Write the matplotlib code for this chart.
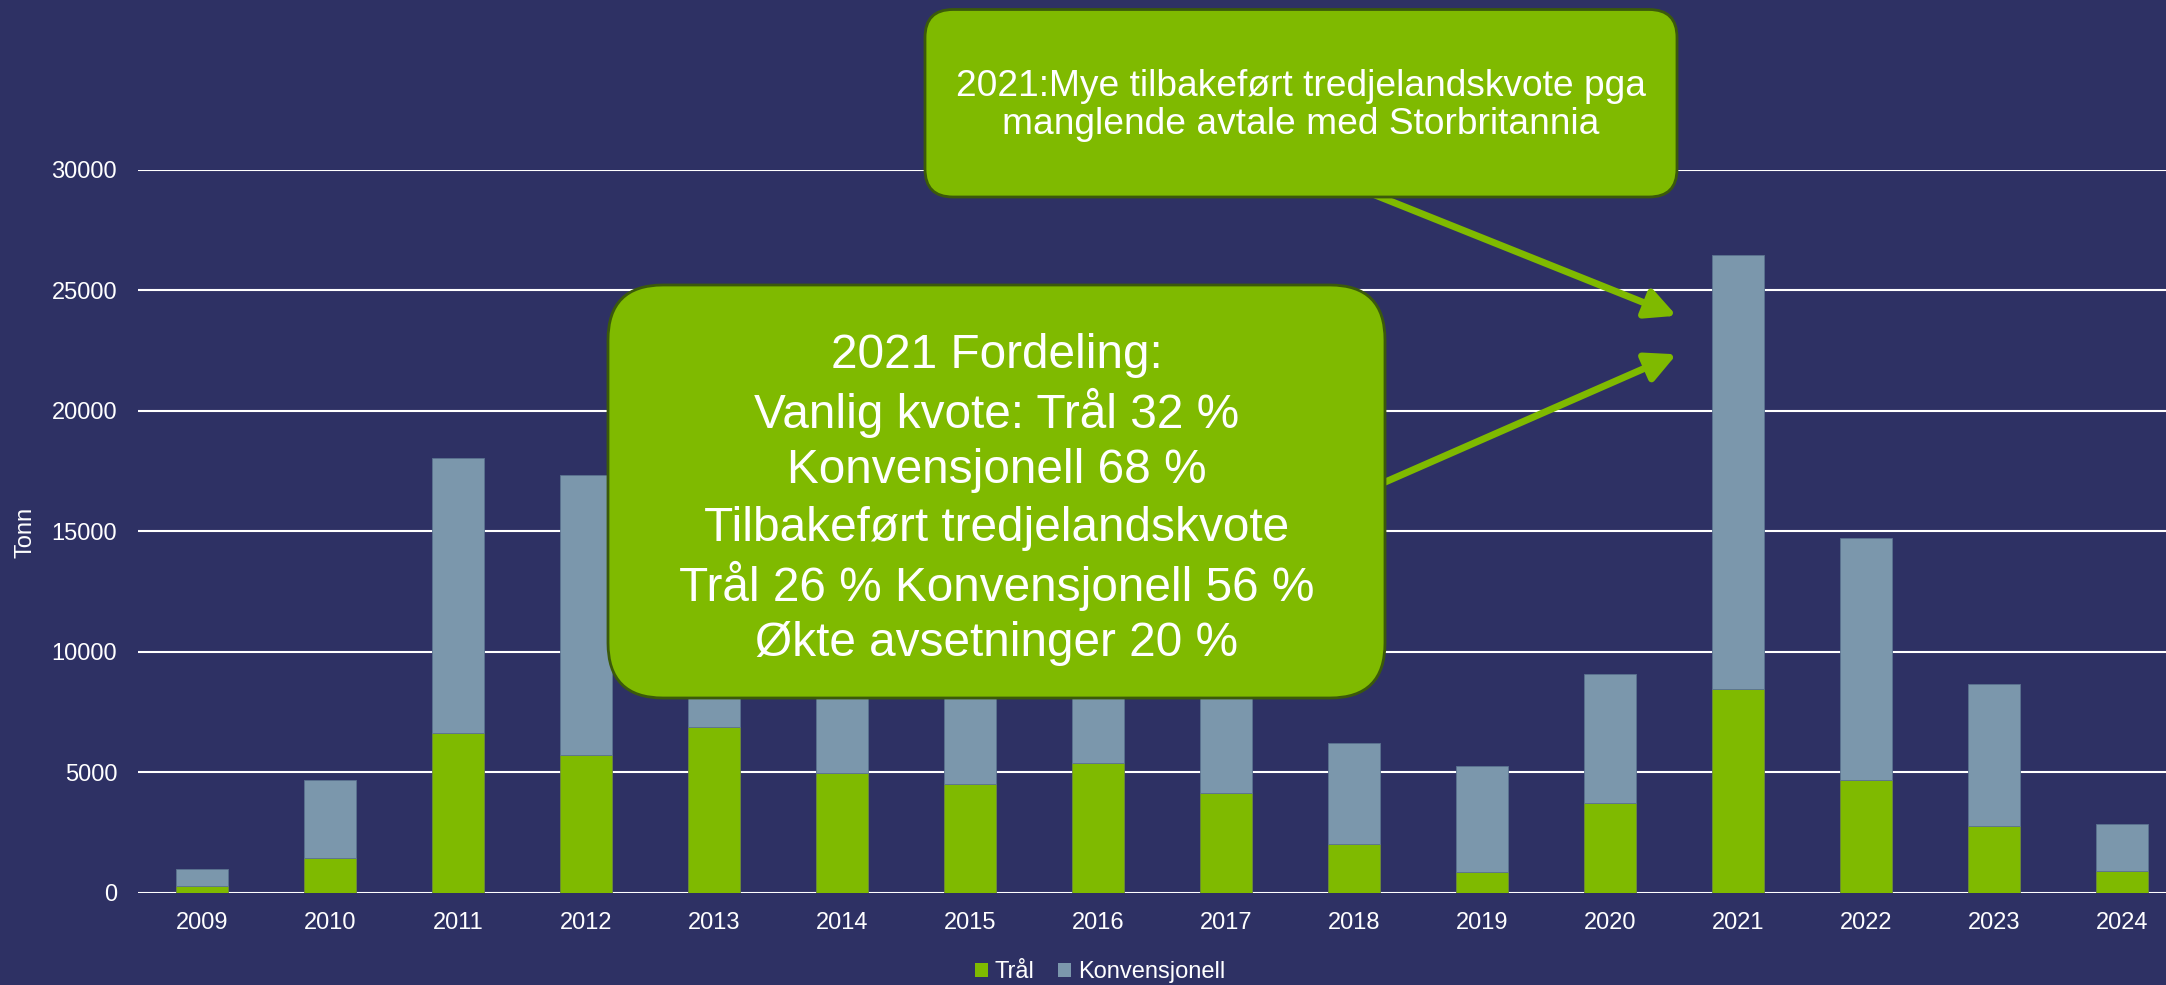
import matplotlib
matplotlib.use("Agg")
import matplotlib.pyplot as plt
import numpy as np
from matplotlib.patches import FancyBboxPatch, Patch

# data (tonn)
years = [str(y) for y in range(2009, 2025)]
tral = [290, 1430, 6630, 5720, 6880, 4980, 4520, 5400, 4130, 2040, 870, 3720, 8470, 4690, 2760, 910]
konv = [680, 3230, 11400, 11630, 9100, 7500, 6500, 7100, 6400, 4190, 4380, 5370, 18020, 10040, 5910, 1940]
yticks = [0, 5000, 10000, 15000, 20000, 25000, 30000]

note_top = ["2021:Mye tilbakeført tredjelandskvote pga",
            "manglende avtale med Storbritannia"]
note_mid = ["2021 Fordeling:",
            "Vanlig kvote: Trål 32 %",
            "Konvensjonell 68 %",
            "Tilbakeført tredjelandskvote",
            "Trål 26 % Konvensjonell 56 %",
            "Økte avsetninger 20 %"]

bg = "#2E3164"
green = "#7FBA00"
blue = "#7B97AC"
font = "Liberation Sans"
plt.rcParams["font.family"] = [font, "DejaVu Sans"]

W, H = 2166, 985
fig = plt.figure(figsize=(W / 100, H / 100), dpi=100, facecolor=bg)

# axes in pixel terms (right edge runs past the figure, as in the slide)
left, right, bottom, top = 138, 2186, 892.7, 170
ax = fig.add_axes([left / W, (H - bottom) / H, (right - left) / W, (bottom - top) / H])
ax.set_facecolor(bg)

x = np.arange(len(years))
ax.bar(x, tral, width=0.4, color=green, edgecolor="#6E8C3A", linewidth=0.6, label="Trål", zorder=3)
ax.bar(x, konv, width=0.4, bottom=tral, color=blue, edgecolor="#5B7390", linewidth=0.6,
       label="Konvensjonell", zorder=3)

ax.set_xlim(-0.5, len(years) - 0.5)
ax.set_ylim(0, 30000)
ax.set_yticks(yticks)
ax.set_xticks(x)
ax.set_xticklabels(years)
ax.grid(axis="y", color="white", linewidth=1.5, zorder=0)
ax.set_axisbelow(True)
for s in ax.spines.values():
    s.set_visible(False)
ax.tick_params(axis="both", length=0, colors="white", labelsize=17)
ax.tick_params(axis="y", pad=15)
ax.tick_params(axis="x", pad=14)

fig.text(25 / W, 1 - 532 / H, "Tonn", rotation=90, ha="center", va="center",
         color="white", fontsize=17)

handles = [Patch(facecolor=green), Patch(facecolor=blue)]
fig.legend(handles, ["Trål", "Konvensjonell"], loc="center", bbox_to_anchor=(1100 / W, 1 - 972 / H),
           ncol=2, frameon=False, fontsize=17, labelcolor="white", handlelength=0.55,
           handleheight=0.55, handletextpad=0.3, columnspacing=1.0)

# arrows from the call-outs to the 2021 bar
arrow = dict(arrowstyle="-|>,head_length=0.9,head_width=0.45", color=green, lw=5,
             mutation_scale=20, shrinkA=0, shrinkB=0)
ax.annotate("", xy=(11.52, 23950), xycoords="data", xytext=(1375 / W, 1 - 195 / H),
            textcoords="figure fraction", arrowprops=arrow, annotation_clip=False)
ax.annotate("", xy=(11.52, 22350), xycoords="data", xytext=(1383 / W, 1 - 483 / H),
            textcoords="figure fraction", arrowprops=arrow, annotation_clip=False)

# call-out boxes (positions in inches, dpi 100)
box1 = FancyBboxPatch((9.25, (H - 197) / 100), 7.52, (197 - 9.5) / 100,
                      boxstyle="round,pad=0,rounding_size=0.28", transform=fig.dpi_scale_trans,
                      facecolor=green, edgecolor="#3B5A0A", linewidth=2)
fig.add_artist(box1)
for i, line in enumerate(note_top):
    fig.text(1301 / W, 1 - (86 + 39 * i) / H, line, ha="center", va="center",
             color="white", fontsize=26.7)

box2 = FancyBboxPatch((6.08, (H - 698) / 100), 7.77, (698 - 285) / 100,
                      boxstyle="round,pad=0,rounding_size=0.55", transform=fig.dpi_scale_trans,
                      facecolor=green, edgecolor="#3B5A0A", linewidth=2)
fig.add_artist(box2)
for i, line in enumerate(note_mid):
    fig.text(996.5 / W, 1 - (356 + 57.4 * i) / H, line, ha="center", va="center",
             color="white", fontsize=34.4)

fig.savefig("out.png", dpi=100, facecolor=bg)
